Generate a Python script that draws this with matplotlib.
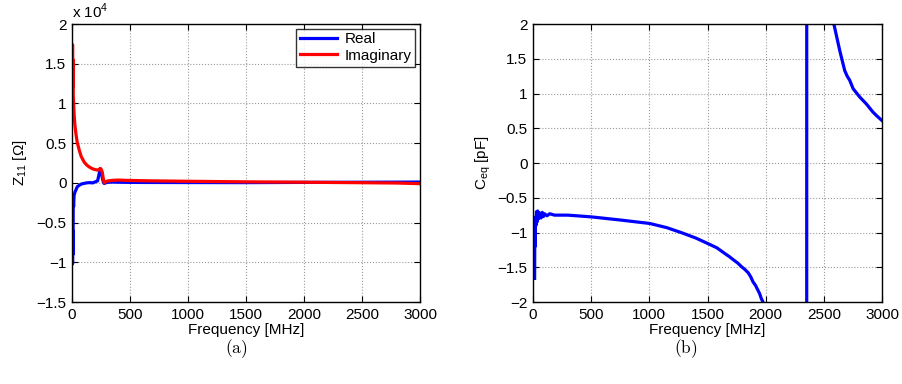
import matplotlib
matplotlib.use('Agg')
import matplotlib.pyplot as plt
from matplotlib.ticker import FuncFormatter

plt.rcParams['font.family'] = ['Liberation Sans', 'DejaVu Sans']
plt.rcParams['font.size'] = 11
plt.rcParams['axes.unicode_minus'] = True

# Z11 data (Ohm) vs frequency (MHz)
freq_z = [1, 3, 5, 7, 9, 11, 14, 18, 25, 34, 45, 63, 80, 106, 127, 149, 180, 221, 244,
          252, 262, 270, 278, 290, 310, 350, 400, 500, 700, 1000, 1500, 2000, 2500,
          2800, 3000]
z_real = [-2000, -3000, -10200, -6000, -9000, -2200, -3000, -1600, -1200, -900, -500,
          -300, -150, -60, 0, 30, 0, 250, 1800, 1500, 600, 100, -80, 0, 80, 100, 80,
          60, 50, 40, 30, 60, 80, 90, 100]
z_imag = [9000, 12000, 17400, 12000, 15500, 11000, 10000, 8700, 7300, 6200, 5100, 4100,
          3300, 2600, 2250, 2000, 1750, 1600, 1800, 1700, 1300, 500, 0, 150, 250, 320,
          350, 300, 250, 200, 130, 80, 20, -20, -100]

# Equivalent capacitance (pF)
freq_c = [14, 16, 18, 20, 25, 30, 35, 40, 50, 60, 70, 80, 90, 100, 120, 143, 185, 300,
          500, 750, 1003, 1150, 1289, 1400, 1504, 1580, 1647, 1690, 1720, 1760, 1791,
          1820, 1850, 1872, 1891, 1912, 1930, 1948, 1962, 1977, 2000, 2100, 2200, 2300,
          2350, 2355, 2400, 2450, 2500, 2550, 2587, 2636, 2679, 2700, 2722, 2751, 2808,
          2865, 2923, 2960, 3000]
c_eq = [-1.66, -0.85, -1.2, -0.78, -0.9, -0.70, -0.85, -0.69, -0.80, -0.72, -0.79,
        -0.71, -0.77, -0.73, -0.76, -0.73, -0.75, -0.75, -0.775, -0.82, -0.87, -0.93,
        -1.01, -1.08, -1.16, -1.22, -1.30, -1.35, -1.39, -1.44, -1.49, -1.53, -1.58,
        -1.64, -1.71, -1.76, -1.82, -1.88, -1.95, -2.0, -2.3, -3.5, -6.0, -15.0, -60.0,
        60.0, 20.0, 8.0, 4.0, 2.6, 1.99, 1.62, 1.33, 1.25, 1.19, 1.07, 0.95, 0.85, 0.73,
        0.67, 0.61]

fig = plt.figure(figsize=(9.02, 3.84), dpi=100)
ax1 = fig.add_axes([0.0798, 0.2135, 0.3858, 0.724])
ax2 = fig.add_axes([0.5909, 0.2135, 0.387, 0.724])


def style(ax):
    ax.grid(True, linestyle=':', color='#999999', linewidth=0.8)
    ax.tick_params(direction='in', top=True, right=True, length=4, width=0.8, pad=4)
    for s in ax.spines.values():
        s.set_linewidth(1.0)
    ax.set_xlim(0, 3000)
    ax.set_xticks([0, 500, 1000, 1500, 2000, 2500, 3000])
    ax.set_xlabel('Frequency [MHz]', labelpad=1)


# (a) input impedance
ax1.plot(freq_z, z_real, color='blue', lw=2.3, label='Real')
ax1.plot(freq_z, z_imag, color='red', lw=2.3, label='Imaginary')
style(ax1)
ax1.set_ylim(-15000, 20000)
ax1.set_yticks([-15000, -10000, -5000, 0, 5000, 10000, 15000, 20000])
ax1.yaxis.set_major_formatter(FuncFormatter(lambda v, p: f'{v/1e4:g}'.replace('-', '\u2212')))
ax1.set_ylabel(r'$\mathregular{Z_{11}}$ [Ω]', labelpad=5)
ax1.text(0.0, 1.01, r'x 10$^{\mathregular{4}}$', transform=ax1.transAxes,
         ha='left', va='bottom', fontsize=11)
leg = ax1.legend(loc='upper right', fancybox=False, edgecolor='black', fontsize=11,
                 borderaxespad=0.3, handlelength=2.4, borderpad=0.25, labelspacing=0.15,
                 handletextpad=0.5)
leg.get_frame().set_linewidth(1.0)

# (b) equivalent capacitance
ax2.plot(freq_c, c_eq, color='blue', lw=2.3)
style(ax2)
ax2.set_ylim(-2, 2)
ax2.set_yticks([-2, -1.5, -1, -0.5, 0, 0.5, 1, 1.5, 2])
ax2.yaxis.set_major_formatter(FuncFormatter(lambda v, p: f'{v:g}'.replace('-', '\u2212')))
ax2.set_ylabel(r'$\mathregular{C_{eq}}$ [pF]', labelpad=3)

fig.text(0.262, 0.092, r'$\mathrm{(a)}$', ha='center', va='center', fontsize=12.5, math_fontfamily='cm')
fig.text(0.7605, 0.092, r'$\mathrm{(b)}$', ha='center', va='center', fontsize=12.5, math_fontfamily='cm')

fig.savefig('out.png', dpi=100)
